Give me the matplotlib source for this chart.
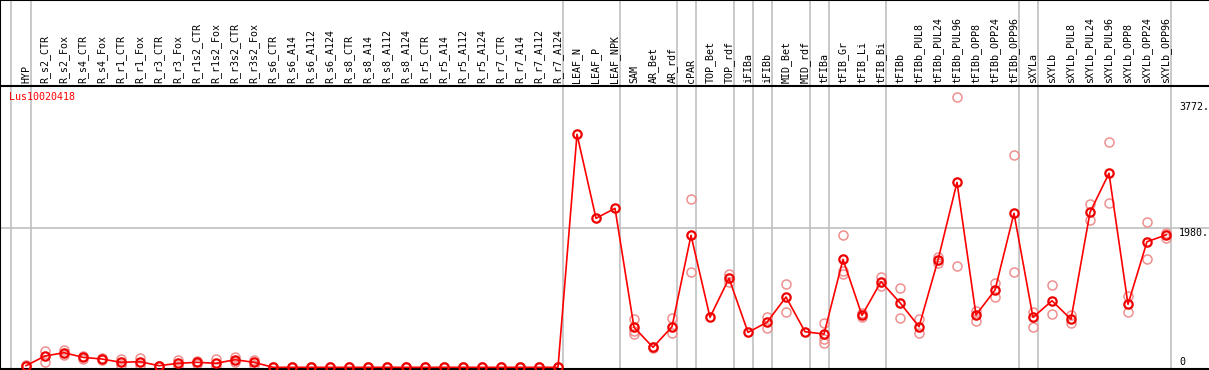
import numpy as np
import matplotlib
matplotlib.use("Agg")
import matplotlib.pyplot as plt
from matplotlib.transforms import blended_transform_factory

# ---------------- data ----------------
gene_name = "Lus10020418"

samples = [
    "HYP", "R_s2_CTR", "R_s2_Fox", "R_s4_CTR", "R_s4_Fox", "R_r1_CTR", "R_r1_Fox",
    "R_r3_CTR", "R_r3_Fox", "R_r1s2_CTR", "R_r1s2_Fox", "R_r3s2_CTR", "R_r3s2_Fox",
    "R_s6_CTR", "R_s6_A14", "R_s6_A112", "R_s6_A124", "R_s8_CTR", "R_s8_A14",
    "R_s8_A112", "R_s8_A124", "R_r5_CTR", "R_r5_A14", "R_r5_A112", "R_r5_A124",
    "R_r7_CTR", "R_r7_A14", "R_r7_A112", "R_r7_A124",
    "LEAF_N", "LEAF_P", "LEAF_NPK", "SAM", "AR_Bet", "AR_rdf", "cPAR",
    "TOP_Bet", "TOP_rdf", "iFIBa", "iFIBb", "MID_Bet", "MID_rdf", "tFIBa",
    "tFIB_Gr", "tFIB_Li", "tFIB_Bi", "tFIBb", "tFIBb_PUL8", "tFIBb_PUL24",
    "tFIBb_PUL96", "tFIBb_OPP8", "tFIBb_OPP24", "tFIBb_OPP96", "sXYLa", "sXYLb",
    "sXYLb_PUL8", "sXYLb_PUL24", "sXYLb_PUL96", "sXYLb_OPP8", "sXYLb_OPP24",
    "sXYLb_OPP96",
]

# sizes of the sample groups separated by grey vertical lines
group_sizes = [1, 28, 3, 3, 1, 2, 1, 1, 2, 1, 3, 7, 1, 7]

mean_values = [
    23, 161, 208, 142, 118, 71, 80, 23, 57, 71, 57, 108, 71,
    0, 0, 0, 0, 0, 0, 0, 0, 0, 0, 0, 0, 0, 0, 0, 0,
    3318, 2122, 2264, 570, 285, 578, 1880, 712, 1267, 498, 641, 1001, 507, 474,
    1538, 740, 1219, 920, 578, 1528, 2634, 745, 1101, 2193, 712, 948,
    684, 2207, 2763, 897, 1789, 1884,
]

nan = np.nan
rep1_values = [
    15, 236, 242, 161, 132, 118, 137, 20, 108, 97, 114, 140, 104,
    0, 0, 0, 0, 0, 0, 0, 0, 0, 0, 0, 0, 0, 0, 0, 0,
    nan, nan, nan, 684, 275, 698, 2392, nan, 1324, nan, 721, 1182, nan, 631,
    1880, 712, 1290, 1125, 688, 1575, 3849, 802, 1205, 3019, 792, 1168,
    745, 2321, 3204, 1020, 2065, 1837,
]
rep2_values = [
    30, 80, 182, 125, 104, 33, 33, 25, 14, 47, 11, 75, 33,
    0, 0, 0, 0, 0, 0, 0, 0, 0, 0, 0, 0, 0, 0, 0, 0,
    nan, nan, nan, 474, 295, 484, 1361, nan, 1219, nan, 555, 792, nan, 399,
    1329, 769, 1162, 706, 493, 1490, 1438, 664, 1005, 1361, 578, 759,
    627, 2098, 2335, 783, 1538, 1908,
]
rep3_values = [
    nan, nan, nan, nan, nan, nan, nan, nan, nan, nan, nan, nan, nan,
    nan, nan, nan, nan, nan, nan, nan, nan, nan, nan, nan, nan, nan, nan, nan, nan,
    nan, nan, nan, 521, nan, nan, nan, nan, nan, nan, nan, nan, nan, 350,
    1376, nan, nan, nan, nan, nan, nan, nan, nan, nan, nan, nan,
    nan, nan, nan, nan, nan, nan,
]

ytick_values = [0, 1980, 3772]
ytick_labels = ["0", "1980.", "3772."]
grid_value = 1980

# ---------------- figure ----------------
W, H = 1209, 370
fig = plt.figure(figsize=(W / 100, H / 100), dpi=100)

mono = "DejaVu Sans Mono"
fs = 7.2
grey = "#c0c0c0"

x = np.arange(len(samples))
xlim = (-26 / 19, (W - 26) / 19)

header_px = 86
bottom_px = 369
ax = fig.add_axes([0, (H - bottom_px) / H, 1, (bottom_px - header_px) / H])
hx = fig.add_axes([0, (H - header_px) / H, 1, header_px / H], sharex=ax)

ax.set_xlim(*xlim)
ax.set_ylim(-24, 4006)

for a in (ax, hx):
    a.set_xticks([])
    a.set_yticks([])
    for s in a.spines.values():
        s.set_color("black")
        s.set_linewidth(1.5)
    a.spines["right"].set_visible(False)
ax.spines["top"].set_visible(False)
hx.set_ylim(0, 1)

# vertical separators between groups
ends = np.cumsum(group_sizes) - 1
sep_positions = [-1 + 0.2] + [e + 0.25 for e in ends]
for a in (ax, hx):
    for p in sep_positions:
        a.axvline(p, color=grey, lw=1.2, zorder=0)

# horizontal grid line
ax.axhline(grid_value, color=grey, lw=1.2, zorder=0)

# replicates
reps = np.array([rep1_values, rep2_values, rep3_values], dtype=float)
for r in reps:
    ax.plot(x, r, linestyle="none", marker="o", markersize=6.5,
            markerfacecolor="none", markeredgecolor="#ee9090",
            markeredgewidth=1.1, zorder=2, clip_on=False)

# mean line
ax.plot(x, mean_values, color="#ff0000", lw=1.2, marker="o", markersize=6,
        markerfacecolor="none", markeredgecolor="#ee0000",
        markeredgewidth=1.6, zorder=3, clip_on=False)

# sample labels in header
for xi, lab in zip(x, samples):
    hx.text(xi, 3 / header_px, lab, rotation=90, ha="center", va="bottom",
            fontsize=fs, family=mono, color="black")

# gene name
ax.text(9.3 / W, 1 - 6 / (bottom_px - header_px), gene_name, transform=ax.transAxes,
        ha="left", va="top", fontsize=fs, family=mono, color="#ff0000")

# right value labels
trans = blended_transform_factory(ax.transAxes, ax.transData)
for v, lab in zip(ytick_values, ytick_labels):
    if v == 0:
        ax.text(1179 / W, v, lab, transform=trans, ha="left", va="bottom",
                fontsize=fs, family=mono, color="black")
    else:
        ax.text(1179 / W, v, lab, transform=trans, ha="left", va="top",
                fontsize=fs, family=mono, color="black")

fig.savefig("out.png", dpi=100)
